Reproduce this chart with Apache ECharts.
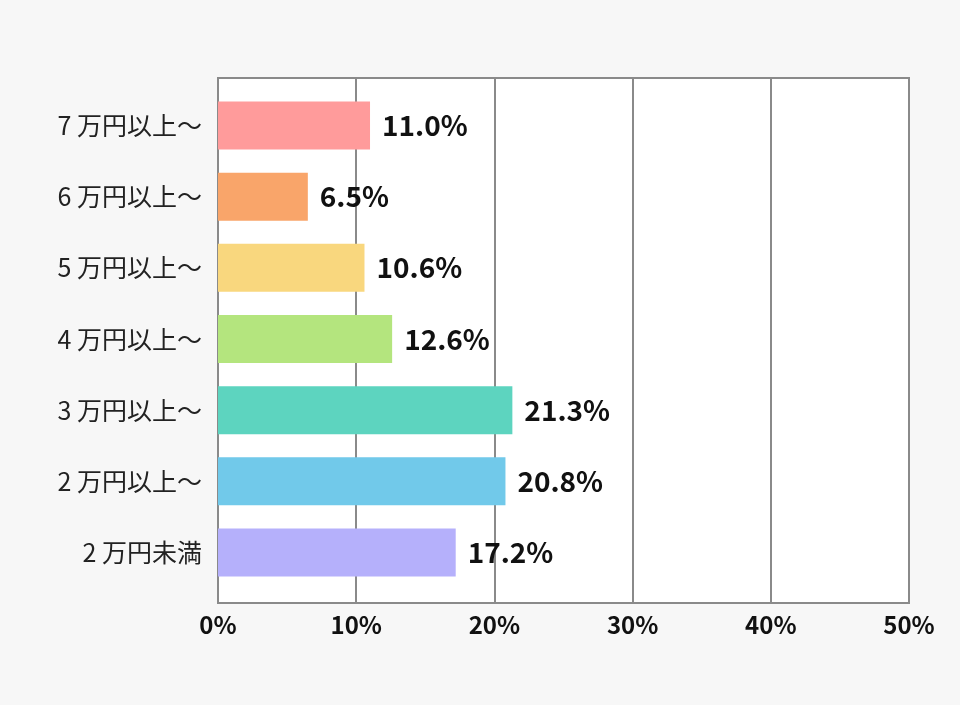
<!DOCTYPE html>
<html>
<head>
	<meta charset="utf-8">
	<title>万円</title>
	<script src="https://cdn.jsdelivr.net/npm/echarts@6/dist/echarts.min.js"></script>
	<style>
		html, body { margin: 0; padding: 0; background: #f7f7f7; }
		#container { width: 960px; height: 705px; }
	</style>
</head>
<body>
<div id="container"></div>
<script type="text/javascript">
	// 下から上の順
	var categories = ['2 万円未満', '2 万円以上～', '3 万円以上～', '4 万円以上～', '5 万円以上～', '6 万円以上～', '7 万円以上～'];
	var values = [17.2, 20.8, 21.3, 12.6, 10.6, 6.5, 11.0];
	var colors = ['#b5b0fb', '#71c9ea', '#5dd4bf', '#b4e57e', '#f9d77e', '#f9a56a', '#ff9b9b'];
	var xTicks = [0, 10, 20, 30, 40, 50];

	var dom = document.getElementById('container');
	var myChart = echarts.init(dom);

	var option = {
		backgroundColor: '#f7f7f7',
		textStyle: { fontFamily: '"Noto Sans CJK JP", "Noto Sans", sans-serif' },
		animation: false,
		grid: [
			// 枠と目盛
			{ left: 218, right: 51, top: 78, bottom: 102, show: true, backgroundColor: '#fff', borderColor: '#8a8a8a', borderWidth: 2, containLabel: false },
			// 棒
			{ left: 218, right: 51, top: 90, bottom: 117, containLabel: false }
		],
		xAxis: [{
			gridIndex: 0,
			type: 'value',
			min: xTicks[0],
			max: xTicks[xTicks.length - 1],
			interval: 10,
			axisLine: { show: false },
			axisTick: { show: false },
			splitLine: { lineStyle: { color: '#8a8a8a', width: 2 } },
			axisLabel: {
				margin: 10,
				color: '#111',
				fontSize: 24,
				fontWeight: 'bold',
				formatter: '{value}%'
			}
		}, {
			gridIndex: 1,
			type: 'value',
			min: xTicks[0],
			max: xTicks[xTicks.length - 1],
			show: false
		}],
		yAxis: [{
			gridIndex: 0,
			type: 'value',
			show: false
		}, {
			gridIndex: 1,
			type: 'category',
			data: categories,
			axisLine: { show: false },
			axisTick: { show: false },
			axisLabel: { margin: 16, color: '#222', fontSize: 25 }
		}],
		series: [{
			type: 'bar',
			xAxisIndex: 1,
			yAxisIndex: 1,
			barWidth: 48,
			data: values.map(function (v, i) {
				return { value: v, itemStyle: { color: colors[i] } };
			}),
			label: {
				show: true,
				position: 'right',
				distance: 12,
				color: '#111',
				fontSize: 28,
				fontWeight: 'bold',
				formatter: function (p) { return p.value.toFixed(1) + '%'; }
			}
		}]
	};

	myChart.setOption(option);
</script>
</body>
</html>
